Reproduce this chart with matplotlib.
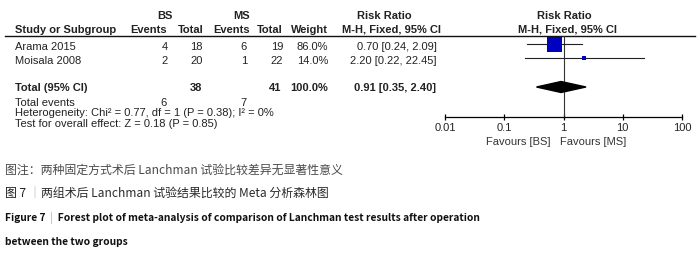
import matplotlib
matplotlib.use("Agg")
import matplotlib.pyplot as plt
from matplotlib.patches import Polygon

# ---- data ----
studies = ["Arama 2015", "Moisala 2008"]
bs_events = [4, 2]
bs_total = [18, 20]
ms_events = [6, 1]
ms_total = [19, 22]
weights = [86.0, 14.0]
rr = [0.70, 2.20]
rr_lo = [0.24, 0.22]
rr_hi = [2.09, 22.45]
total_bs, total_ms = 38, 41
total_ev_bs, total_ev_ms = 6, 7
total_rr, total_lo, total_hi = 0.91, 0.35, 2.40
tick_vals = [0.01, 0.1, 1, 10, 100]
tick_labels = ["0.01", "0.1", "1", "10", "100"]
heterogeneity = "Heterogeneity: Chi² = 0.77, df = 1 (P = 0.38); I² = 0%"
overall = "Test for overall effect: Z = 0.18 (P = 0.85)"

W, H = 700, 258
fig = plt.figure(figsize=(W / 100, H / 100), dpi=100)
ax = fig.add_axes([0, 0, 1, 1])
ax.set_xlim(0, W)
ax.set_ylim(H, 0)
ax.axis("off")

FONT = ["Liberation Sans", "DejaVu Sans"]
FS = 8.0
TC = "#222222"


def t(x, y, s, ha="left", bold=False, color=TC, size=FS):
    ax.text(x, y, s, ha=ha, va="center", fontsize=size, family=FONT,
            fontweight="bold" if bold else "normal", color=color)


# headers
t(165, 16, "BS", ha="center", bold=True)
t(242, 16, "MS", ha="center", bold=True)
t(384, 16, "Risk Ratio", ha="center", bold=True)
t(564, 16, "Risk Ratio", ha="center", bold=True)
hy = 30
t(15, hy, "Study or Subgroup", bold=True)
t(167, hy, "Events", ha="right", bold=True)
t(204, hy, "Total", ha="right", bold=True)
t(250, hy, "Events", ha="right", bold=True)
t(283, hy, "Total", ha="right", bold=True)
t(328, hy, "Weight", ha="right", bold=True)
t(392, hy, "M-H, Fixed, 95% CI", ha="center", bold=True)
t(567, hy, "M-H, Fixed, 95% CI", ha="center", bold=True)
ax.plot([5, 695], [35.5, 35.5], color="#111111", lw=1.0)

row_y = [46.5, 61]
for i, name in enumerate(studies):
    y = row_y[i]
    t(15, y, name)
    t(168, y, str(bs_events[i]), ha="right")
    t(203, y, str(bs_total[i]), ha="right")
    t(247, y, str(ms_events[i]), ha="right")
    t(283, y, str(ms_total[i]), ha="right")
    t(328, y, f"{weights[i]:.1f}%", ha="right")
    t(437, y, f"{rr[i]:.2f} [{rr_lo[i]:.2f}, {rr_hi[i]:.2f}]", ha="right")

ty = 88
t(15, ty, "Total (95% CI)", bold=True)
t(202, ty, str(total_bs), ha="right", bold=True)
t(281, ty, str(total_ms), ha="right", bold=True)
t(328, ty, "100.0%", ha="right", bold=True)
t(436, ty, f"{total_rr:.2f} [{total_lo:.2f}, {total_hi:.2f}]", ha="right", bold=True)
t(15, 102.5, "Total events")
t(167, 102.5, str(total_ev_bs), ha="right")
t(247, 102.5, str(total_ev_ms), ha="right")
t(15, 112.5, heterogeneity)
t(15, 124, overall)

# forest axes
ax_top, ax_bot = 35.5, 117
fa = fig.add_axes([445 / W, (H - ax_bot) / H, (682 - 445) / W, (ax_bot - ax_top) / H])
fa.set_xscale("log")
fa.set_xlim(tick_vals[0], tick_vals[-1])
fa.set_ylim(ax_bot, ax_top)
fa.patch.set_alpha(0)
for s in ["top", "left", "right"]:
    fa.spines[s].set_visible(False)
fa.spines["bottom"].set_linewidth(0.9)
fa.set_yticks([])
fa.set_xticks(tick_vals)
fa.set_xticklabels(tick_labels)
fa.minorticks_off()
fa.tick_params(axis="x", direction="inout", length=5, width=0.9, pad=1.5,
               labelsize=FS, labelcolor=TC)
for lab in fa.get_xticklabels():
    lab.set_family(FONT)
fa.axvline(1, color="#333333", lw=0.8)

mk_y = [44, 58]
for i in range(len(studies)):
    y = mk_y[i]
    fa.plot([rr_lo[i], rr_hi[i]], [y, y], color="#222222", lw=0.8)
    side = 10.8 * (weights[i] / max(weights)) ** 0.75
    fa.scatter([rr[i]], [y], marker="s", s=side ** 2, color="#0000C0",
               edgecolors="none", zorder=3)

dy = 87
dh = 5.5
fa.add_patch(Polygon([[total_lo, dy], [total_rr, dy - dh], [total_hi, dy],
                      [total_rr, dy + dh]], closed=True, color="black", zorder=3))

t(550, 142, "Favours [BS]", ha="right", color="#333333")
t(560, 142, "Favours [MS]", ha="left", color="#333333")

# captions
CF = ["Noto Sans CJK SC", "DejaVu Sans"]


def chain(pieces, x, y, size):
    prev = None
    for s, color, weight in pieces:
        if prev is None:
            prev = ax.text(x, y, s, ha="left", va="center", fontsize=size, family=CF,
                           color=color, fontweight=weight)
        else:
            prev = ax.annotate(s, xy=(1, 0.5), xycoords=prev, ha="left", va="center",
                               fontsize=size, family=CF, color=color, fontweight=weight)
    return prev


chain([("图注：两种固定方式术后 Lanchman 试验比较差异无显著性意义", "#4a4a4a", "normal")], 5, 170, 8.6)
chain([("图 7 ", "#1e1e1e", "medium"), ("｜", "#aaaaaa", "normal"),
       ("两组术后 Lanchman 试验结果比较的 Meta 分析森林图", "#2a2a2a", "normal")], 5, 193, 8.6)
chain([("Figure 7  ", "#111111", "bold"), ("|", "#aaaaaa", "normal"),
       ("  Forest plot of meta-analysis of comparison of Lanchman test results after operation",
        "#111111", "bold")], 5, 218, 7.4)
chain([("between the two groups", "#111111", "bold")], 5, 242, 7.4)

fig.savefig("out.png", dpi=100)
